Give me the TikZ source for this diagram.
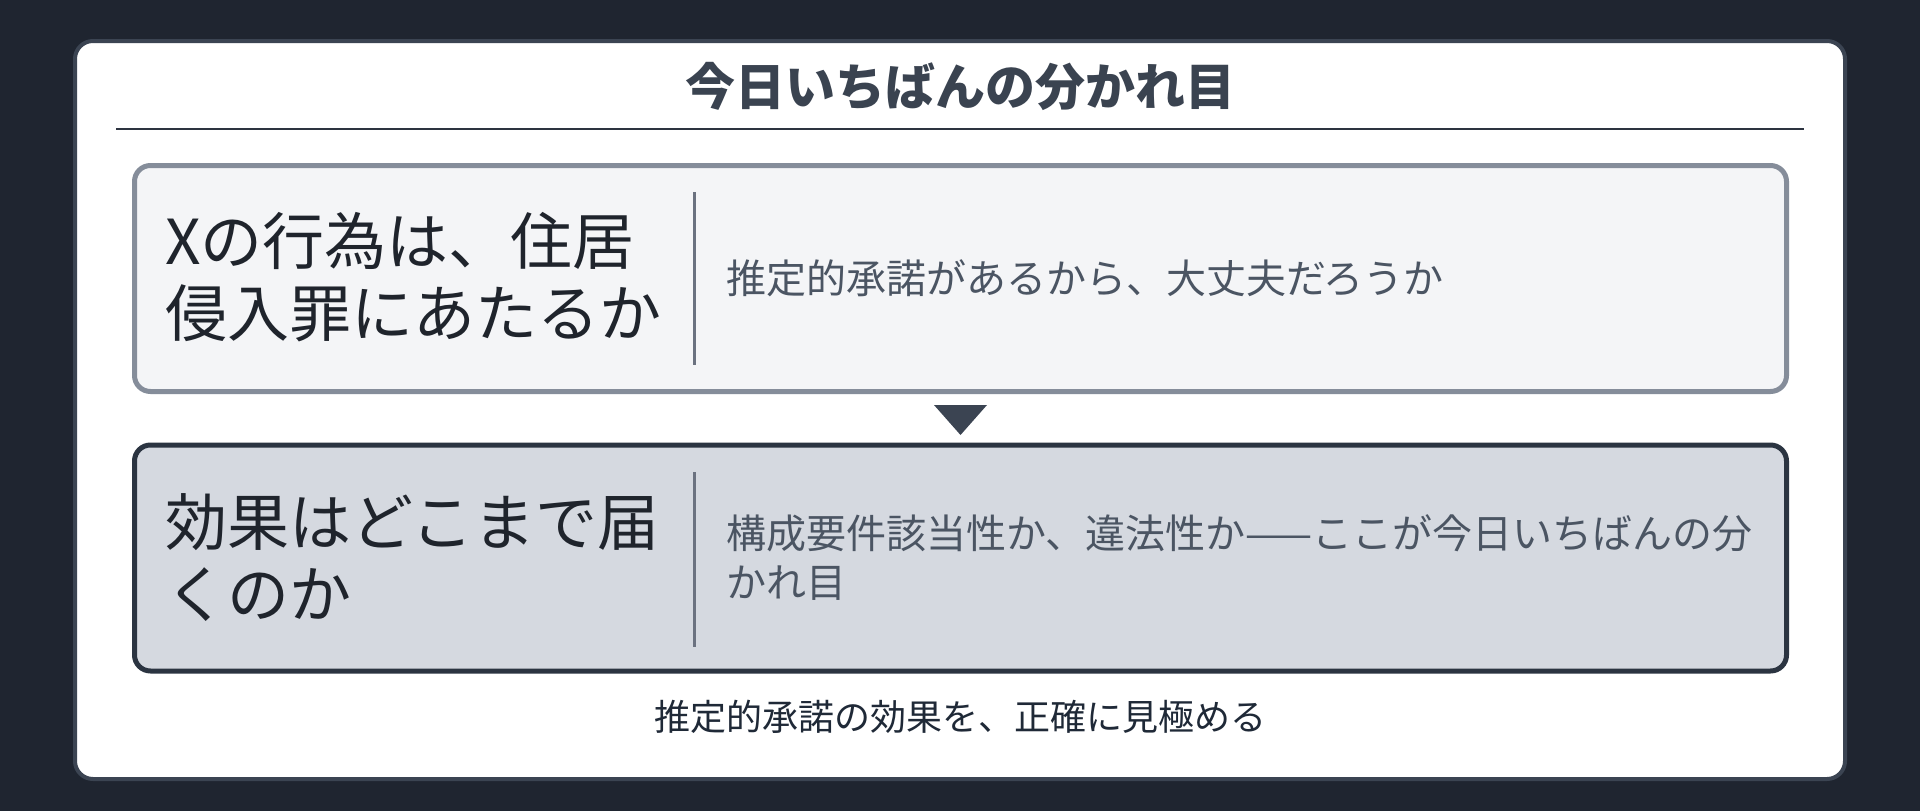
\documentclass[tikz,border=0pt]{standalone}
\usepackage{fontspec}
\setmainfont{Noto Sans CJK JP}
\definecolor{pagebg}{HTML}{1F2530}
\definecolor{cardborder}{HTML}{3B4452}
\definecolor{titletext}{HTML}{3A4350}
\definecolor{rulecol}{HTML}{2D3440}
\definecolor{onefill}{HTML}{F4F5F7}
\definecolor{oneborder}{HTML}{858D9A}
\definecolor{twofill}{HTML}{D5D9E0}
\definecolor{twoborder}{HTML}{2B3441}
\definecolor{leadtext}{HTML}{1F242C}
\definecolor{detailtext}{HTML}{4B5563}
\definecolor{dividercol}{HTML}{6B7280}
\definecolor{footertext}{HTML}{1F2937}
\begin{document}
\begin{tikzpicture}[x=1pt,y=-1pt,
  card/.style={draw=cardborder, line width=4pt, fill=white, rounded corners=18pt,
    minimum width=1770pt, minimum height=738pt, inner sep=0pt},
  panel/.style={line width=5pt, rounded corners=16pt, minimum width=1652pt,
    minimum height=226pt, inner sep=0pt},
  panelone/.style={panel, draw=oneborder, fill=onefill},
  paneltwo/.style={panel, draw=twoborder, fill=twofill},
  lead/.style={anchor=west, align=left, text=leadtext, inner sep=0pt,
    font=\fontsize{62pt}{72pt}\selectfont},
  detail/.style={anchor=west, align=left, text=detailtext, inner sep=0pt,
    font=\fontsize{40pt}{49pt}\selectfont},
  divider/.style={draw=dividercol, line width=3pt},
  marker/.style={fill=cardborder}
]
\useasboundingbox[fill=pagebg] (0,0) rectangle (1920,811);
\node[card] (card) at (960,410) {};
\node[text=titletext, inner sep=0pt, font=\fontsize{50pt}{60pt}\selectfont\bfseries] (title) at (960,86) {今日いちばんの分かれ目};
\draw[draw=rulecol, line width=2.5pt] (116,129) -- (1804,129);

\node[panelone] (p1) at (960.5,278.5) {};
\node[lead] (p1lead) at (165,277) {Xの行為は、住居\\侵入罪にあたるか};
\draw[divider] (694,192) -- (694,365);
\node[detail] (p1detail) at (726,278) {推定的承諾があるから、大丈夫だろうか};

\fill[marker] (934,405) -- (987,405) -- (960.5,435) -- cycle;

\node[paneltwo] (p2) at (960.5,558) {};
\node[lead] (p2lead) at (165,558) {効果はどこまで届\\くのか};
\draw[divider] (694,472) -- (694,647);
\node[detail] (p2detail) at (726,558) {構成要件該当性か、違法性か——ここが今日いちばんの分\\かれ目};

\node[text=footertext, inner sep=0pt, font=\fontsize{36pt}{42pt}\selectfont] (footer) at (960,717) {推定的承諾の効果を、正確に見極める};
\end{tikzpicture}
\end{document}
